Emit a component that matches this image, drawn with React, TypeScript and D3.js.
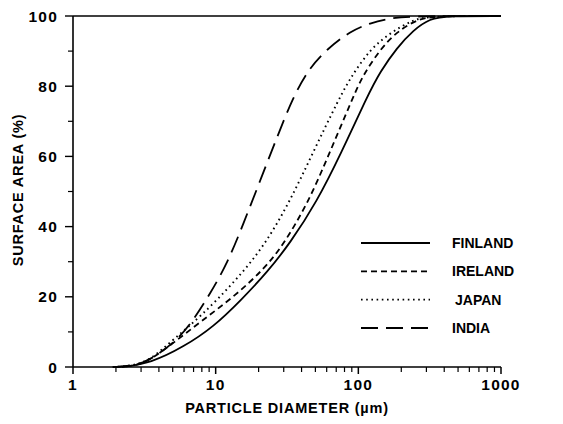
import * as d3 from 'd3';

// particle size distributions
const finlandD = [2.2, 3.5, 6.0, 9.7, 15, 23, 33.5, 51, 75, 115, 143, 186, 243, 318, 420, 1000];
const finlandP = [0, 1.1, 5.8, 11.5, 19, 27, 35.5, 47, 60.5, 77, 84.3, 90.9, 96, 99.3, 100, 100];

const irelandD = [2.0, 2.7, 3.5, 5.1, 7.9, 13.4, 22, 30, 44, 60, 92, 108, 143, 186, 257, 340, 1000];
const irelandP = [0, 0.3, 2.0, 7.0, 13.0, 20, 28, 35, 46.5, 59, 77, 83.2, 90.6, 95.5, 99, 100, 100];

const japanD = [1.9, 2.6, 3.5, 5.1, 7.9, 13.4, 22, 33.5, 48, 73, 90, 121, 167, 243, 320, 1000];
const japanP = [0, 0.3, 2.0, 8.0, 14.5, 24, 34.5, 47.6, 61, 76.4, 83, 90.5, 95.2, 99, 100, 100];

const indiaD = [1.9, 2.7, 3.5, 5.4, 7.0, 9.2, 12.1, 15.7, 20.6, 27, 35, 45, 60, 88, 121, 167, 250, 1000];
const indiaP = [0, 0.3, 2.0, 7.7, 13.4, 21.1, 29.6, 41, 53.3, 65.6, 77, 85, 90.5, 95.7, 98, 99.4, 100, 100];

const seriesNames = ['FINLAND', 'IRELAND', 'JAPAN', 'INDIA'];
const seriesD = [finlandD, irelandD, japanD, indiaD];
const seriesP = [finlandP, irelandP, japanP, indiaP];
const dashes = ['none', '6 4', '1.6 3.6', '17 8'];

const yTicks = [0, 20, 40, 60, 80, 100];
const yMinor = [10, 30, 50, 70, 90];
const xTicks = [1, 10, 100, 1000];

const font = 'Liberation Sans, Arial, Helvetica, sans-serif';

export default function App() {
  const width = 563;
  const height = 424;

  const x = d3.scaleLog().domain([1, 1000]).range([73, 501]);
  const y = d3.scaleLinear().domain([0, 100]).range([367, 16]);

  const xMinor: number[] = [];
  [1, 10, 100].forEach(dec => {
    for (let k = 2; k <= 9; k++) xMinor.push(dec * k);
  });

  const line = d3.line<[number, number]>()
    .x(d => x(d[0]))
    .y(d => y(d[1]))
    .curve(d3.curveBasis);

  const legendY = d3.scalePoint<string>().domain(seriesNames).range([243, 328]);

  return (
    <svg width={width} height={height}
      style={{ position: 'absolute', left: 0, top: 0, background: '#fff' }}
      fontFamily={font} fontWeight="bold">
      {/* axes */}
      <line x1={x(1)} x2={x(1)} y1={y(100)} y2={y(0)} stroke="#000" strokeWidth={1.6} />
      <line x1={x(1)} x2={x(1000)} y1={y(0)} y2={y(0)} stroke="#000" strokeWidth={1.4} />
      <line x1={x(1)} x2={x(1000)} y1={y(100)} y2={y(100)} stroke="#000" strokeWidth={1.4} />

      {yTicks.map(t => (
        <g key={'y' + t}>
          <line x1={x(1) - 8} x2={x(1)} y1={y(t)} y2={y(t)} stroke="#000" strokeWidth={1.4} />
          <text x={x(1) - 15} y={y(t)} dy="0.36em" textAnchor="end" fontSize={15.5} letterSpacing={1.2}>{t}</text>
        </g>
      ))}
      {yMinor.map(t => (
        <line key={'ym' + t} x1={x(1) - 5} x2={x(1)} y1={y(t)} y2={y(t)} stroke="#000" strokeWidth={1.2} />
      ))}

      {xTicks.map(t => (
        <g key={'x' + t}>
          <line x1={x(t)} x2={x(t)} y1={y(0)} y2={y(0) + 7} stroke="#000" strokeWidth={1.5} />
          <text x={x(t)} y={y(0) + 23} textAnchor="middle" fontSize={15.5} letterSpacing={1.2}>{t}</text>
        </g>
      ))}
      {xMinor.map(t => (
        <line key={'xm' + t} x1={x(t)} x2={x(t)} y1={y(0)} y2={y(0) + 5} stroke="#000" strokeWidth={1.2} />
      ))}

      <text x={287} y={413} textAnchor="middle" fontSize={14.5} letterSpacing={0.8}>PARTICLE DIAMETER (µm)</text>
      <text transform="translate(23,190) rotate(-90)" textAnchor="middle" fontSize={14.5} letterSpacing={0.8}>SURFACE AREA (%)</text>

      {/* curves */}
      {seriesNames.map((name, i) => {
        const pts = seriesD[i].map((d, j) => [d, seriesP[i][j]] as [number, number]);
        return (
          <path key={name} d={line(pts) || ''} fill="none" stroke="#000"
            strokeWidth={i === 2 ? 1.9 : 1.8} strokeDasharray={dashes[i]} />
        );
      })}

      {/* legend */}
      {seriesNames.map((name, i) => (
        <g key={'lg' + name}>
          <line x1={361} x2={430} y1={legendY(name)!} y2={legendY(name)!} stroke="#000"
            strokeWidth={1.8} strokeDasharray={dashes[i]} />
          <text x={name === 'JAPAN' ? 455 : 452} y={legendY(name)!} dy="0.36em" fontSize={14}>{name}</text>
        </g>
      ))}
    </svg>
  );
}
